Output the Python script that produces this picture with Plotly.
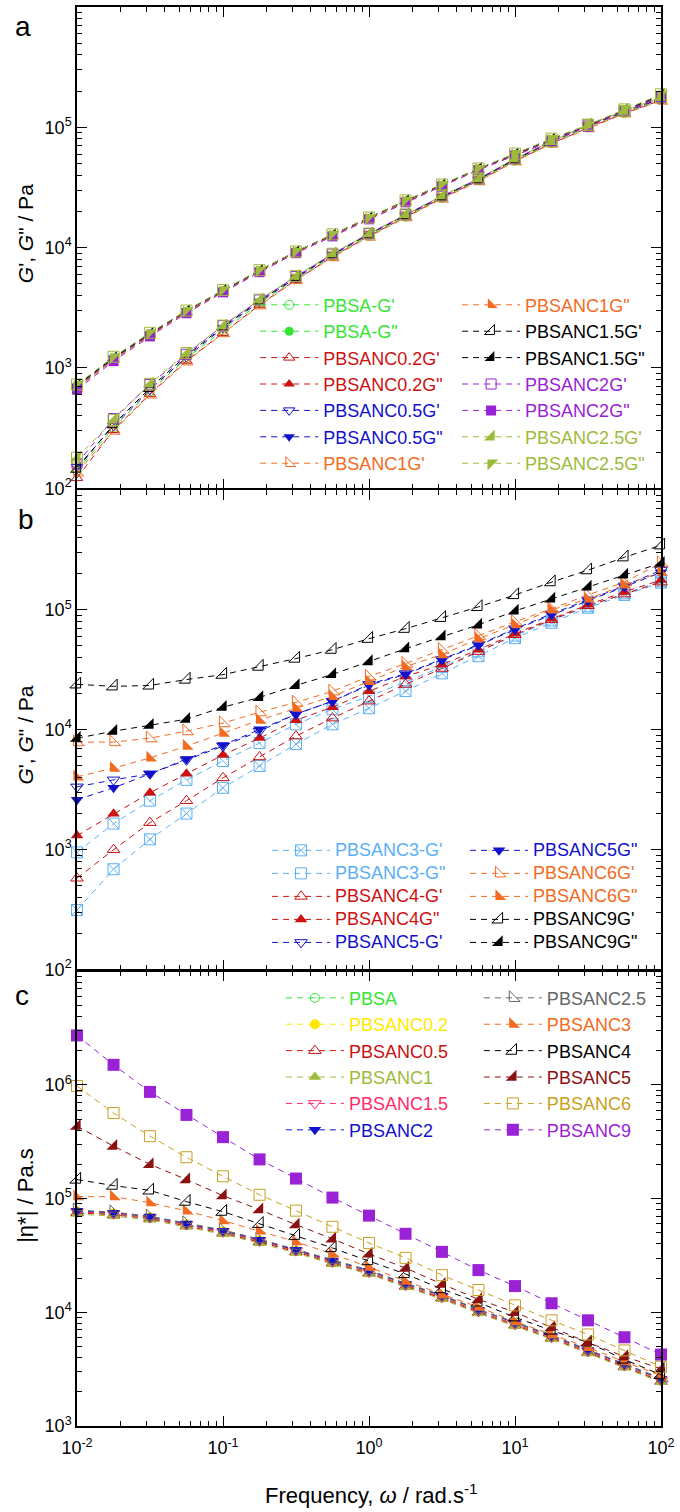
import plotly.graph_objects as go

FONT = "Liberation Sans, Arial, sans-serif"

# angular frequency, rad/s
freq = [0.01, 0.0178, 0.0316, 0.0562, 0.1, 0.178, 0.316, 0.562,
        1, 1.78, 3.16, 5.62, 10, 17.8, 31.6, 56.2, 100]

# ---------------- panel a : G' and G'' (Pa) ----------------
pbsa_gp = [140, 320, 640, 1200, 2050, 3450, 5500, 8500, 12600, 18200, 26000, 36500, 53000, 74000, 100000, 132000, 170000]
pbsa_gpp = [700, 1200, 1900, 2950, 4350, 6400, 9200, 12700, 17500, 24300, 33000, 45000, 59500, 79000, 103000, 138000, 182000]
nc02_gp = [122, 305, 610, 1150, 1950, 3350, 5400, 8400, 12500, 18000, 25800, 36000, 52500, 73500, 99000, 131000, 168000]
nc02_gpp = [690, 1180, 1880, 2920, 4300, 6350, 9150, 12600, 17400, 24200, 32800, 44800, 59000, 78500, 102000, 137000, 180000]
nc05_gp = [150, 330, 660, 1230, 2150, 3550, 5600, 8700, 12900, 18500, 26400, 36800, 54000, 75500, 103000, 134000, 173000]
nc05_gpp = [710, 1210, 1920, 2980, 4400, 6450, 9250, 12750, 17600, 24500, 33200, 45200, 59800, 79500, 103500, 139000, 184000]
nc1_gp = [135, 300, 600, 1130, 1940, 3300, 5350, 8300, 12300, 17800, 25500, 35500, 52000, 73000, 98000, 130000, 166000]
nc1_gpp = [680, 1170, 1860, 2900, 4280, 6300, 9100, 12500, 17300, 24000, 32600, 44500, 58700, 78000, 101500, 136000, 178000]
nc15_gp = [145, 340, 680, 1270, 2200, 3620, 5700, 8800, 13000, 18700, 26700, 37000, 54500, 76000, 104000, 135000, 175000]
nc15_gpp = [715, 1220, 1940, 2990, 4420, 6480, 9280, 12800, 17700, 24600, 33300, 45300, 60000, 80000, 104000, 140000, 186000]
nc2_gp = [160, 380, 730, 1300, 2250, 3680, 5750, 8850, 13100, 18800, 26800, 37200, 54800, 76500, 104500, 136000, 176000]
nc2_gpp = [660, 1140, 1830, 2850, 4250, 6250, 9000, 12400, 17200, 23800, 32400, 44200, 58500, 77500, 101000, 135000, 177000]
nc25_gp = [180, 370, 740, 1330, 2250, 3700, 5800, 8900, 13100, 18900, 27000, 37500, 55000, 76500, 105000, 137000, 178000]
nc25_gpp = [730, 1240, 1960, 3000, 4450, 6500, 9300, 12900, 17800, 24700, 33500, 45500, 60500, 80500, 105000, 141000, 188000]

# ---------------- panel b : G' and G'' (Pa) ----------------
nc3_gp = [314, 687, 1220, 2000, 3280, 4990, 7590, 11100, 15100, 21000, 29500, 41000, 58000, 78000, 104000, 133000, 168000]
nc3_gpp = [950, 1650, 2560, 3820, 5490, 7740, 11100, 14800, 19000, 25000, 33500, 45000, 61000, 81500, 107000, 137000, 173000]
nc4_gp = [578, 1000, 1680, 2560, 3970, 5930, 8850, 12500, 17300, 23900, 32400, 44800, 61900, 82500, 108000, 135000, 170000]
nc4_gpp = [1310, 1990, 2980, 4290, 6160, 8520, 12000, 15400, 20900, 27800, 34900, 46500, 63100, 84100, 110000, 141000, 177000]
nc5_gp = [3340, 3820, 4290, 5600, 7310, 9730, 13500, 17300, 23900, 29400, 38500, 51200, 69500, 92500, 121000, 158000, 214000]
nc5_gpp = [2610, 3280, 4290, 5700, 7450, 10100, 13500, 17300, 23500, 29000, 38000, 50500, 68500, 91000, 119000, 155000, 205000]
nc6_gp = [7890, 7890, 8500, 9730, 11350, 14000, 16900, 20900, 27800, 35600, 46500, 60800, 79400, 102000, 133000, 170000, 245000]
nc6_gpp = [4050, 4790, 5820, 7310, 9370, 12000, 15100, 19000, 25300, 33600, 42300, 57400, 75000, 99800, 123000, 161000, 206000]
nc9_gp = [23900, 23000, 23400, 26200, 28800, 33600, 39200, 46500, 57400, 69500, 85700, 105700, 132800, 170000, 214000, 274000, 345000]
nc9_gpp = [8500, 9730, 10900, 12250, 15400, 18600, 23400, 28900, 37000, 47400, 59600, 74900, 97800, 123000, 155000, 195000, 245000]

# ---------------- panel c : complex viscosity (Pa.s) ----------------
eta_pbsa = [76000, 73000, 67500, 58500, 50500, 42000, 34500, 27500, 22400, 17200, 13500, 10100, 7800, 6000, 4500, 3380, 2500]
eta_nc02 = [77000, 74000, 68500, 59500, 51500, 43000, 35000, 28000, 22800, 17500, 13800, 10300, 7950, 6100, 4600, 3450, 2560]
eta_nc05 = [75000, 72000, 66500, 57500, 49500, 41500, 34000, 27000, 22000, 16900, 13300, 9950, 7700, 5900, 4430, 3320, 2460]
eta_nc1 = [73000, 70000, 65000, 56500, 48500, 40500, 33200, 26500, 21600, 16600, 13000, 9800, 7550, 5800, 4350, 3260, 2420]
eta_nc15 = [76500, 73500, 68000, 59000, 51000, 42500, 34800, 27700, 22600, 17300, 13600, 10200, 7850, 6050, 4550, 3400, 2520]
eta_nc2 = [78000, 75000, 69500, 60500, 52000, 43500, 35500, 28500, 23200, 17800, 14000, 10500, 8100, 6200, 4650, 3500, 2600]
eta_nc25 = [79000, 76000, 70000, 61000, 53000, 44000, 36000, 29000, 23500, 18000, 14200, 10600, 8200, 6300, 4700, 3550, 2640]
eta_nc3 = [104000, 104000, 92000, 78000, 64000, 52000, 41700, 32600, 25000, 18800, 14400, 11100, 8320, 6380, 4900, 3680, 2770]
eta_nc4 = [147000, 130000, 118000, 94000, 76700, 60000, 47100, 36800, 28200, 21700, 16000, 12200, 9040, 6920, 5430, 3840, 2820]
eta_nc5 = [433000, 289000, 200000, 147000, 106000, 80000, 58900, 44300, 32600, 24500, 17700, 13000, 10000, 7360, 5430, 4080, 3190]
eta_nc6 = [977000, 565000, 354000, 231000, 157000, 108000, 78300, 56500, 40700, 30100, 21200, 15700, 11500, 8500, 6380, 4620, 3320]
eta_nc9 = [2720000, 1500000, 867000, 544000, 347000, 221000, 150000, 102000, 70800, 49000, 34000, 23500, 17000, 12000, 8500, 6030, 4250]

# axis tick labels
x_tickvals = [0.01, 0.1, 1, 10, 100]
x_ticktext = ["10<sup>-2</sup>", "10<sup>-1</sup>", "10<sup>0</sup>", "10<sup>1</sup>", "10<sup>2</sup>"]
g_tickvals = [1e2, 1e3, 1e4, 1e5, 1e6]
g_ticktext = ["10<sup>2</sup>", "10<sup>3</sup>", "10<sup>4</sup>", "10<sup>5</sup>", ""]
eta_tickvals = [1e3, 1e4, 1e5, 1e6, 1e7]
eta_ticktext = ["10<sup>3</sup>", "10<sup>4</sup>", "10<sup>5</sup>", "10<sup>6</sup>", ""]

# colours
GREEN = "#33e633"
RED = "#cc1111"
BLUE = "#1111cc"
ORANGE = "#f26b21"
BLACK = "#000000"
PURPLE = "#9a22d6"
OLIVE = "#9dbb3a"
LBLUE = "#5ab0f5"
YELLOW = "#ffe800"
PINK = "#ff2a6a"
DRED = "#8b1010"
GOLD = "#c8a020"
GRAY = "#666666"

# figure geometry (pixels)
W, H = 680, 1512
L, R, T, B = 77, 13, 5, 86
PW, PH = W - L - R, H - T - B
LW = 1.5  # frame line width


def px_x(px):
    return (px - L) / PW


def px_y(py):
    return (H - B - py) / PH


DASH = "6px,5px"

fig = go.Figure()


def label(name, color, size=None):
    style = "color:%s" % color
    if size:
        style += ";font-size:%dpx" % size
    return '<span style="%s">%s</span>' % (style, name)


def add_series(name, y, color, symbol, panel, legend, text_color=None,
               size=10, text_size=None, overlay=None):
    xa, ya = {1: ("x", "y"), 2: ("x2", "y2"), 3: ("x3", "y3")}[panel]
    is_open = "open" in symbol
    fig.add_trace(go.Scatter(
        x=freq, y=y, mode="lines+markers", xaxis=xa, yaxis=ya, cliponaxis=False,
        name=label(name, text_color or color, text_size), legend=legend,
        line=dict(color=color, width=1, dash=DASH),
        marker=dict(symbol=symbol, size=size, color=color,
                    line=dict(color=color, width=1 if is_open else 0)),
        hoverinfo="skip"))
    if overlay:
        osym, osize = overlay
        o_open = "open" in osym
        fig.add_trace(go.Scatter(
            x=freq, y=y, mode="markers", xaxis=xa, yaxis=ya, showlegend=False,
            cliponaxis=False,
            marker=dict(symbol=osym, size=osize, color=color,
                        line=dict(color=color, width=1 if o_open else 0)),
            hoverinfo="skip"))


# panel a
add_series("PBSA-G'", pbsa_gp, GREEN, "circle-open-dot", 1, "legend", size=9)
add_series('PBSA-G"', pbsa_gpp, GREEN, "circle", 1, "legend", size=9)
add_series("PBSANC0.2G'", nc02_gp, RED, "triangle-up-open", 1, "legend")
add_series('PBSANC0.2G"', nc02_gpp, RED, "triangle-up", 1, "legend")
add_series("PBSANC0.5G'", nc05_gp, BLUE, "triangle-down-open", 1, "legend")
add_series('PBSANC0.5G"', nc05_gpp, BLUE, "triangle-down", 1, "legend")
add_series("PBSANC1G'", nc1_gp, ORANGE, "triangle-sw-open", 1, "legend", size=11)
add_series('PBSANC1G"', nc1_gpp, ORANGE, "triangle-sw", 1, "legend2", size=11)
add_series("PBSANC1.5G'", nc15_gp, BLACK, "triangle-se-open", 1, "legend2", size=11)
add_series('PBSANC1.5G"', nc15_gpp, BLACK, "triangle-se", 1, "legend2", size=11)
add_series("PBSANC2G'", nc2_gp, PURPLE, "square-open", 1, "legend2", size=10)
add_series('PBSANC2G"', nc2_gpp, PURPLE, "square", 1, "legend2", size=10)
add_series("PBSANC2.5G'", nc25_gp, OLIVE, "triangle-se", 1, "legend2", size=12,
           overlay=("square-open", 11))
add_series('PBSANC2.5G"', nc25_gpp, OLIVE, "triangle-nw", 1, "legend2", size=12,
           overlay=("square-open", 11))

# panel b
BT = 18
add_series("PBSANC3-G'", nc3_gp, LBLUE, "square-x-open", 2, "legend3", size=11, text_size=BT)
add_series('PBSANC3-G"', nc3_gpp, LBLUE, "square-open", 2, "legend3", size=11, text_size=BT,
           overlay=("line-nw-open", 10))
add_series("PBSANC4-G'", nc4_gp, RED, "triangle-up-open", 2, "legend3", size=11, text_size=BT)
add_series('PBSANC4G"', nc4_gpp, RED, "triangle-up", 2, "legend3", size=11, text_size=BT)
add_series("PBSANC5-G'", nc5_gp, BLUE, "triangle-down-open", 2, "legend3", size=11, text_size=BT)
add_series('PBSANC5G"', nc5_gpp, BLUE, "triangle-down", 2, "legend4", size=11, text_size=BT)
add_series("PBSANC6G'", nc6_gp, ORANGE, "triangle-sw-open", 2, "legend4", size=12, text_size=BT)
add_series('PBSANC6G"', nc6_gpp, ORANGE, "triangle-sw", 2, "legend4", size=12, text_size=BT)
add_series("PBSANC9G'", nc9_gp, BLACK, "triangle-se-open", 2, "legend4", size=12, text_size=BT)
add_series('PBSANC9G"', nc9_gpp, BLACK, "triangle-se", 2, "legend4", size=12, text_size=BT)

# panel c
add_series("PBSA", eta_pbsa, GREEN, "circle-open-dot", 3, "legend5", size=9)
add_series("PBSANC0.2", eta_nc02, YELLOW, "circle", 3, "legend5", size=10)
add_series("PBSANC0.5", eta_nc05, RED, "triangle-up-open", 3, "legend5", size=11)
add_series("PBSANC1", eta_nc1, OLIVE, "triangle-up", 3, "legend5", size=11)
add_series("PBSANC1.5", eta_nc15, PINK, "triangle-down-open", 3, "legend5", size=11)
add_series("PBSANC2", eta_nc2, BLUE, "triangle-down", 3, "legend5", size=11)
add_series("PBSANC2.5", eta_nc25, GRAY, "triangle-sw-open", 3, "legend6", size=12)
add_series("PBSANC3", eta_nc3, ORANGE, "triangle-sw", 3, "legend6", size=12)
add_series("PBSANC4", eta_nc4, BLACK, "triangle-se-open", 3, "legend6", size=12)
add_series("PBSANC5", eta_nc5, DRED, "triangle-se", 3, "legend6", size=12)
add_series("PBSANC6", eta_nc6, GOLD, "square-open", 3, "legend6", size=11)
add_series("PBSANC9", eta_nc9, PURPLE, "square", 3, "legend6", size=12)

# axes
x_minor = [m * 10.0 ** e for e in range(-2, 2) for m in range(2, 10)]
g_minor = [m * 10.0 ** e for e in range(2, 6) for m in range(2, 10)]
eta_minor = [m * 10.0 ** e for e in range(3, 7) for m in range(2, 10)]

tickfont = dict(family=FONT, size=18, color="black")
axis_common = dict(type="log", showline=True, linecolor="black", linewidth=LW,
                   mirror="allticks", ticks="inside", ticklen=10, tickwidth=1.2,
                   tickcolor="black", showgrid=False, zeroline=False,
                   tickfont=tickfont, tickmode="array", ticklabeloverflow="allow")
x_common = dict(axis_common, range=[-2, 2], domain=[0, 1],
                tickvals=x_tickvals, ticktext=x_ticktext,
                minor=dict(tickmode="array", tickvals=x_minor, ticks="inside",
                           ticklen=5, tickwidth=1, tickcolor="black", showgrid=False))

# stacked panels share their border lines: the lower panel starts one
# line width below the upper one so both frame lines fall on the same row
dom_a = [px_y(487), 1]
dom_b = [px_y(969), px_y(487 + LW)]
dom_c = [0, px_y(969 + LW)]


def y_axis(rng, dom, vals, text, minor, anchor):
    return dict(axis_common, range=rng, domain=dom, tickvals=vals, ticktext=text,
                anchor=anchor,
                minor=dict(tickmode="array", tickvals=minor, ticks="inside",
                           ticklen=5, tickwidth=1, tickcolor="black", showgrid=False))


legend_common = dict(bgcolor="rgba(0,0,0,0)", borderwidth=0, xanchor="left",
                     yanchor="top", itemwidth=58, traceorder="normal",
                     font=dict(family=FONT, size=18, color="black"))

fig.update_layout(
    width=W, height=H,
    margin=dict(l=L, r=R, t=T, b=B),
    paper_bgcolor="white", plot_bgcolor="white",
    font=dict(family=FONT, size=18, color="black"),
    xaxis=dict(x_common, anchor="y", showticklabels=False),
    xaxis2=dict(x_common, anchor="y2", showticklabels=False),
    xaxis3=dict(x_common, anchor="y3", showticklabels=True, ticklabelstandoff=5),
    yaxis=y_axis([2, 6], dom_a, g_tickvals, g_ticktext, g_minor, "x"),
    yaxis2=y_axis([2, 6], dom_b, g_tickvals, g_ticktext, g_minor, "x2"),
    yaxis3=y_axis([3, 7], dom_c, eta_tickvals, eta_ticktext, eta_minor, "x3"),
    legend=dict(legend_common, x=px_x(257), y=px_y(285)),
    legend2=dict(legend_common, x=px_x(461), y=px_y(285)),
    legend3=dict(legend_common, x=px_x(269), y=px_y(833),
                 font=dict(family=FONT, size=15.4, color="black")),
    legend4=dict(legend_common, x=px_x(469), y=px_y(833),
                 font=dict(family=FONT, size=15.4, color="black")),
    legend5=dict(legend_common, x=px_x(283), y=px_y(979)),
    legend6=dict(legend_common, x=px_x(483), y=px_y(979)),
    showlegend=True,
)

annots = [
    dict(text="a", x=px_x(22), y=px_y(25), font=dict(size=28)),
    dict(text="b", x=px_x(25), y=px_y(518), font=dict(size=28)),
    dict(text="c", x=px_x(21), y=px_y(995), font=dict(size=28)),
    dict(text="<i>G</i>', <i>G</i>\" / Pa", x=px_x(25), y=px_y(232),
         textangle=-90, font=dict(size=21)),
    dict(text="<i>G</i>', <i>G</i>\" / Pa", x=px_x(25), y=px_y(734),
         textangle=-90, font=dict(size=21)),
    dict(text="|η*| / Pa.s", x=px_x(25), y=px_y(1195),
         textangle=-90, font=dict(size=22)),
    dict(text="Frequency, <i>ω</i> / rad.s<sup>-1</sup>", x=px_x(375), y=px_y(1494),
         font=dict(size=22)),
]
for a in annots:
    fig.add_annotation(xref="paper", yref="paper", showarrow=False,
                       xanchor="center", yanchor="middle",
                       font=dict(a.pop("font"), family=FONT, color="black"), **a)

fig.write_html("out.html")
